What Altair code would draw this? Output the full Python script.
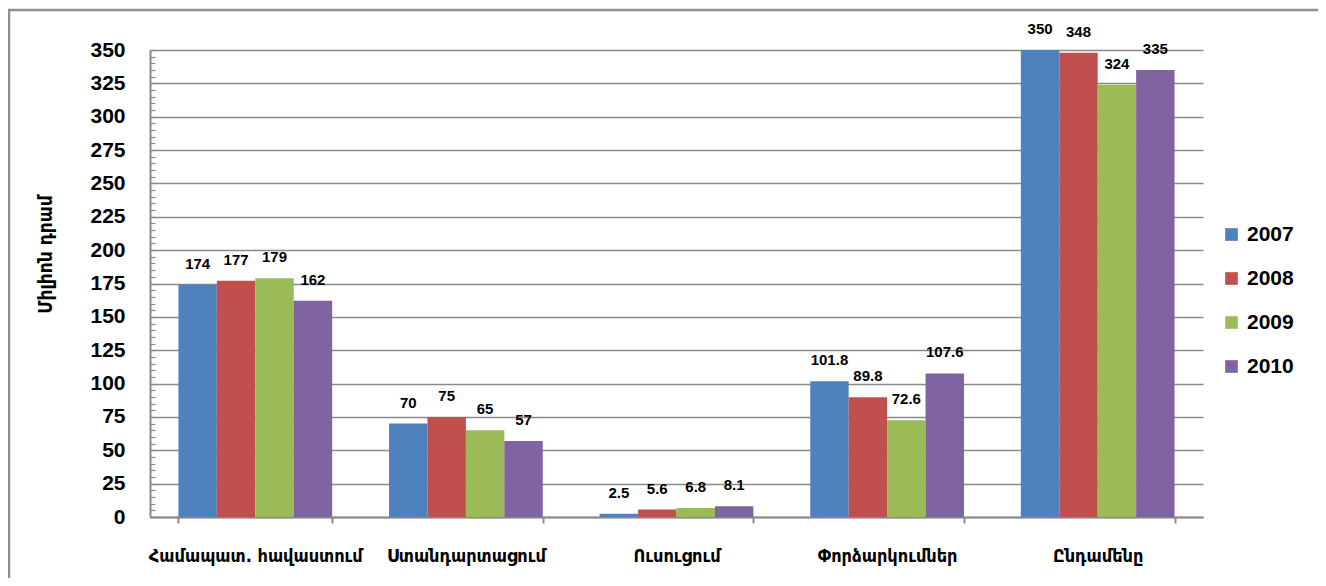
import altair as alt
import pandas as pd

categories = ["Համապատ. հավաստում", "Ստանդարտացում", "Ուսուցում", "Փորձարկումներ", "Ընդամենը"]
years = ["2007", "2008", "2009", "2010"]
v2007 = [174, 70, 2.5, 101.8, 350]
v2008 = [177, 75, 5.6, 89.8, 348]
v2009 = [179, 65, 6.8, 72.6, 324]
v2010 = [162, 57, 8.1, 107.6, 335]
colors = ["#4F81BD", "#C0504D", "#9BBB59", "#8064A2"]

rows = []
for y, vals in zip(years, [v2007, v2008, v2009, v2010]):
    for c, v in zip(categories, vals):
        rows.append({"Category": c, "Year": y, "Value": v, "Label": f"{v:g}"})
df = pd.DataFrame(rows)

GRID = "#8a8a8a"
XFONT = "DejaVu Sans Condensed, DejaVu Sans"

x_enc = alt.X("Category:N", sort=categories, title=None,
              scale=alt.Scale(paddingInner=0.27, paddingOuter=0.135),
              axis=alt.Axis(tickBand="extent", labelAngle=0, labelFont=XFONT,
                            labelFontWeight="bold", labelFontSize=18, labelColor="#000",
                            labelPadding=24, labelLimit=0, tickSize=6, tickColor=GRID,
                            tickWidth=2, domainColor=GRID, domainWidth=2, grid=False))
xo_enc = alt.XOffset("Year:N", sort=years, scale=alt.Scale(paddingInner=0, paddingOuter=0))
yscale = alt.Scale(domain=[0, 350], nice=False)

bars = alt.Chart(df).mark_bar().encode(
    x=x_enc,
    xOffset=xo_enc,
    y=alt.Y("Value:Q", scale=yscale, title="Միլիոն դրամ",
            axis=alt.Axis(values=list(range(0, 351, 25)), grid=True, gridColor=GRID,
                          gridWidth=1.5, domainColor=GRID, domainWidth=2, ticks=False,
                          labelFont="Liberation Sans", labelFontWeight="bold",
                          labelFontSize=21, labelColor="#000", labelPadding=25,
                          titleFont=XFONT, titleFontWeight="bold", titleFontSize=19,
                          titleColor="#000", titleX=-105, titleY=204, titleAngle=270,
                          titleAlign="center", titleBaseline="middle")),
    color=alt.Color("Year:N", sort=years, scale=alt.Scale(domain=years, range=colors),
                    legend=alt.Legend(title=None, orient="none", legendX=1071, legendY=174,
                                      symbolType="square", symbolSize=160, symbolStrokeWidth=0,
                                      labelFont="Liberation Sans", labelFontWeight="bold",
                                      labelFontSize=21, labelColor="#000", rowPadding=22,
                                      labelOffset=5)),
)

text = alt.Chart(df).mark_text(dy=-21, baseline="middle", font="Liberation Sans",
                               fontWeight="bold", fontSize=15, color="#000").encode(
    x=alt.X("Category:N", sort=categories),
    xOffset=alt.XOffset("Year:N", sort=years),
    y=alt.Y("Value:Q", scale=yscale,
            axis=alt.Axis(orient="left", offset=-5, values=list(range(0, 351, 5)),
                          labels=False, domain=False, grid=False, title=None,
                          tickSize=5, tickColor=GRID, tickWidth=1.2)),
    text="Label:N",
)

frame = alt.Chart(pd.DataFrame({"a": [0]})).mark_rect(filled=False, stroke="#8f8f8f",
                                                        strokeWidth=2.5).encode(
    x=alt.value(-141), x2=alt.value(1170), y=alt.value(-40), y2=alt.value(534))

chart = alt.layer(frame, bars, text).resolve_axis(y="independent").properties(
    width=1053, height=467,
    autosize=alt.AutoSizeParams(type="none"),
    padding={"left": 142, "top": 42, "right": 115, "bottom": 61},
).configure_view(stroke=None)

chart.save("out.html", embed_options={"renderer": "svg", "actions": False})
